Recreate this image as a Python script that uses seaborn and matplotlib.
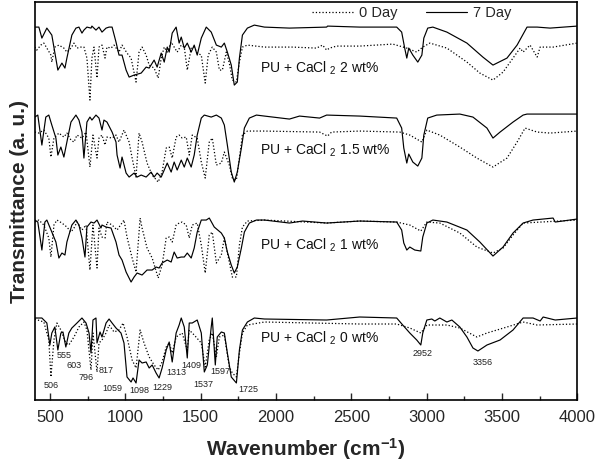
import matplotlib
matplotlib.use("Agg")
import matplotlib.pyplot as plt
from matplotlib.ticker import MultipleLocator
from matplotlib.lines import Line2D
import seaborn as sns
import pandas as pd

# ---------------- data (wavenumber cm-1, transmittance a.u.) ----------------
# PU + CaCl2 2 wt%
wn_2_7 = [400, 427, 447, 480, 513, 553, 580, 600, 613, 646, 673, 693, 713, 726, 746, 773, 779, 806, 826, 846, 873, 893, 913, 939, 959, 979, 1006, 1026, 1059, 1106, 1139, 1159, 1192, 1212, 1239, 1259, 1279, 1292, 1312, 1338, 1358, 1372, 1392, 1412, 1438, 1458, 1478, 1505, 1538, 1571, 1605, 1638, 1658, 1678, 1704, 1724, 1744, 1758, 1778, 1811, 1857, 1924, 2090, 2337, 2343, 2556, 2802, 2835, 2855, 2869, 2882, 2909, 2942, 2969, 2982, 3008, 3042, 3135, 3268, 3374, 3441, 3534, 3601, 3667, 3734, 3820, 4000]
t_2_7 = [373, 373, 362, 372, 365, 330, 337, 332, 342, 365, 372, 373, 367, 370, 373, 372, 374, 370, 373, 368, 372, 373, 373, 358, 345, 345, 330, 323, 325, 327, 333, 332, 340, 333, 347, 338, 353, 348, 367, 373, 357, 363, 352, 357, 348, 355, 345, 362, 373, 368, 355, 353, 357, 348, 335, 315, 318, 342, 365, 372, 375, 373, 372, 373, 374, 373, 373, 368, 352, 342, 352, 345, 338, 345, 362, 372, 373, 368, 357, 343, 335, 342, 355, 373, 373, 372, 374]
wn_2_0 = [400, 413, 440, 460, 480, 507, 513, 533, 560, 593, 613, 640, 660, 680, 706, 726, 746, 766, 779, 793, 813, 826, 846, 866, 879, 906, 926, 959, 979, 1012, 1039, 1072, 1092, 1112, 1139, 1159, 1192, 1219, 1239, 1259, 1279, 1305, 1325, 1345, 1372, 1392, 1412, 1438, 1458, 1478, 1505, 1531, 1551, 1578, 1605, 1625, 1645, 1671, 1691, 1711, 1738, 1758, 1778, 1811, 1924, 2110, 2270, 2310, 2337, 2357, 2403, 2556, 2776, 2869, 2935, 2975, 3022, 3135, 3268, 3354, 3441, 3508, 3574, 3621, 3641, 3667, 3687, 3734, 3754, 3840, 4000]
t_2_0 = [353, 350, 355, 357, 352, 345, 338, 353, 355, 352, 348, 352, 357, 352, 353, 353, 342, 300, 342, 353, 322, 353, 355, 342, 353, 352, 355, 348, 355, 347, 342, 318, 348, 353, 345, 335, 332, 322, 342, 353, 348, 358, 353, 348, 355, 353, 330, 352, 353, 347, 345, 317, 345, 353, 348, 330, 330, 348, 337, 320, 318, 338, 353, 355, 353, 353, 352, 355, 350, 352, 354, 354, 356, 352, 348, 353, 357, 352, 338, 327, 320, 328, 342, 352, 348, 352, 355, 343, 353, 353, 357]

# PU + CaCl2 1.5 wt%
wn_15_7 = [400, 420, 447, 473, 493, 513, 540, 553, 573, 593, 613, 640, 673, 693, 713, 726, 746, 766, 779, 806, 826, 846, 859, 879, 913, 939, 946, 966, 979, 1006, 1026, 1059, 1079, 1106, 1139, 1172, 1192, 1212, 1239, 1259, 1279, 1305, 1325, 1345, 1372, 1392, 1412, 1438, 1458, 1478, 1505, 1525, 1571, 1605, 1638, 1658, 1678, 1704, 1724, 1744, 1771, 1791, 1824, 1871, 1924, 2090, 2157, 2290, 2337, 2556, 2802, 2835, 2849, 2869, 2882, 2909, 2942, 2969, 2982, 3008, 3068, 3221, 3308, 3401, 3441, 3488, 3574, 3641, 3667, 4000]
t_15_7 = [283, 285, 255, 283, 285, 275, 262, 245, 253, 243, 258, 278, 285, 280, 268, 242, 278, 283, 280, 285, 282, 270, 280, 278, 268, 258, 245, 232, 243, 227, 223, 227, 223, 225, 223, 228, 223, 227, 223, 230, 237, 228, 238, 230, 240, 233, 242, 233, 245, 265, 282, 285, 283, 285, 282, 275, 255, 228, 218, 228, 252, 272, 282, 285, 284, 281, 284, 282, 285, 284, 282, 272, 252, 237, 246, 238, 234, 242, 265, 282, 285, 286, 283, 272, 262, 268, 278, 285, 286, 286]
wn_15_0 = [400, 427, 460, 493, 507, 527, 560, 593, 613, 640, 660, 680, 713, 740, 766, 786, 813, 826, 846, 866, 879, 913, 939, 959, 992, 1026, 1046, 1072, 1092, 1112, 1145, 1179, 1219, 1245, 1272, 1292, 1312, 1338, 1358, 1378, 1405, 1425, 1445, 1478, 1505, 1531, 1558, 1578, 1605, 1638, 1658, 1691, 1711, 1738, 1758, 1778, 1811, 1924, 2290, 2343, 2370, 2556, 2822, 2889, 2969, 3002, 3088, 3221, 3334, 3441, 3534, 3601, 3654, 3734, 3820, 4000]
t_15_0 = [268, 267, 270, 262, 243, 262, 267, 263, 267, 260, 258, 265, 262, 268, 233, 265, 242, 262, 265, 255, 263, 262, 265, 258, 270, 258, 242, 223, 267, 258, 237, 225, 218, 228, 252, 253, 242, 263, 265, 262, 263, 245, 265, 262, 238, 222, 258, 262, 235, 237, 248, 235, 222, 220, 242, 265, 269, 269, 268, 264, 268, 269, 268, 265, 258, 270, 265, 253, 242, 233, 242, 258, 272, 268, 267, 269]

# PU + CaCl2 1 wt%
wn_1_7 = [400, 420, 447, 467, 480, 513, 540, 560, 580, 600, 613, 646, 673, 693, 713, 733, 746, 773, 793, 813, 839, 846, 873, 906, 939, 959, 979, 1006, 1039, 1059, 1079, 1112, 1145, 1179, 1205, 1225, 1245, 1279, 1305, 1325, 1345, 1372, 1392, 1412, 1438, 1458, 1478, 1505, 1538, 1558, 1591, 1638, 1658, 1678, 1704, 1724, 1744, 1771, 1791, 1824, 1871, 1924, 2090, 2177, 2337, 2556, 2802, 2835, 2849, 2869, 2889, 2922, 2962, 2975, 3002, 3042, 3135, 3268, 3354, 3441, 3508, 3574, 3641, 3707, 3840, 3854, 4000]
t_1_7 = [180, 178, 150, 178, 180, 168, 158, 142, 147, 145, 158, 175, 180, 175, 162, 143, 173, 178, 177, 180, 172, 175, 173, 172, 158, 145, 140, 128, 118, 123, 127, 125, 130, 130, 133, 132, 137, 140, 138, 148, 142, 143, 143, 147, 142, 152, 168, 180, 180, 182, 173, 167, 162, 148, 135, 127, 133, 152, 168, 177, 180, 180, 177, 179, 177, 179, 178, 170, 157, 150, 153, 150, 149, 163, 177, 180, 178, 170, 158, 144, 153, 167, 177, 180, 182, 178, 181]
wn_1_0 = [400, 427, 460, 493, 507, 527, 547, 580, 613, 640, 660, 680, 713, 740, 766, 786, 813, 826, 846, 866, 879, 913, 946, 992, 1012, 1046, 1072, 1099, 1112, 1145, 1179, 1219, 1245, 1272, 1292, 1312, 1338, 1358, 1378, 1405, 1425, 1445, 1478, 1505, 1531, 1558, 1578, 1605, 1638, 1658, 1691, 1711, 1738, 1758, 1778, 1811, 1924, 2337, 2556, 2802, 2889, 2962, 3002, 3088, 3221, 3334, 3441, 3508, 3574, 3641, 4000]
t_1_0 = [178, 180, 175, 162, 143, 175, 180, 177, 173, 168, 172, 178, 170, 175, 130, 175, 132, 172, 163, 162, 178, 175, 170, 180, 163, 142, 128, 182, 172, 152, 142, 122, 135, 162, 163, 158, 175, 177, 178, 175, 162, 175, 177, 155, 127, 165, 168, 137, 145, 162, 138, 123, 123, 155, 173, 179, 180, 177, 179, 178, 175, 169, 178, 177, 167, 153, 147, 152, 165, 177, 180]

# PU + CaCl2 0 wt%
wn_0_7 = [400, 447, 480, 500, 513, 533, 553, 573, 587, 606, 626, 646, 680, 713, 740, 760, 773, 786, 806, 813, 833, 846, 873, 893, 913, 939, 972, 992, 1012, 1039, 1052, 1072, 1092, 1112, 1139, 1159, 1179, 1205, 1225, 1245, 1272, 1292, 1312, 1338, 1358, 1372, 1392, 1412, 1425, 1445, 1478, 1505, 1525, 1545, 1571, 1578, 1598, 1611, 1638, 1658, 1678, 1704, 1738, 1758, 1778, 1811, 1857, 1924, 2337, 2556, 2802, 2842, 2889, 2935, 2962, 2975, 3002, 3035, 3055, 3088, 3135, 3168, 3221, 3268, 3308, 3341, 3401, 3488, 3574, 3641, 3707, 3754, 3774, 3854, 4000]
t_0_7 = [82, 82, 77, 55, 67, 73, 50, 67, 68, 53, 67, 72, 77, 82, 77, 67, 47, 80, 82, 57, 68, 63, 77, 81, 77, 72, 67, 57, 23, 18, 22, 17, 40, 37, 38, 32, 35, 27, 22, 32, 50, 58, 38, 67, 75, 82, 73, 42, 77, 77, 80, 67, 28, 35, 73, 82, 35, 63, 68, 67, 47, 23, 17, 50, 70, 78, 82, 81, 80, 83, 82, 75, 67, 60, 55, 67, 80, 81, 79, 82, 78, 80, 73, 63, 52, 49, 55, 60, 70, 82, 82, 79, 83, 80, 82]
wn_0_0 = [400, 460, 493, 507, 527, 547, 573, 606, 626, 660, 693, 726, 746, 773, 786, 813, 826, 846, 873, 893, 926, 959, 986, 1012, 1046, 1072, 1099, 1125, 1159, 1192, 1219, 1245, 1272, 1292, 1312, 1338, 1358, 1378, 1412, 1425, 1458, 1505, 1531, 1558, 1578, 1605, 1625, 1658, 1691, 1711, 1738, 1758, 1778, 1811, 1924, 2556, 2802, 2889, 2962, 3002, 3135, 3221, 3334, 3401, 3534, 3641, 3734, 4000]
t_0_0 = [81, 78, 60, 23, 60, 77, 70, 57, 55, 63, 73, 78, 70, 30, 67, 28, 57, 60, 67, 75, 68, 70, 77, 63, 40, 32, 70, 57, 43, 35, 30, 38, 53, 57, 47, 63, 65, 67, 50, 70, 65, 57, 33, 60, 67, 43, 63, 65, 33, 27, 23, 47, 67, 75, 78, 76, 76, 72, 67, 75, 75, 72, 63, 67, 73, 78, 75, 76]

# sample labels and their anchor points
sample_labels = ["PU + CaCl $_{2}$ 2 wt%", "PU + CaCl $_{2}$ 1.5 wt%",
                 "PU + CaCl $_{2}$ 1 wt%", "PU + CaCl $_{2}$ 0 wt%"]
sample_label_y = [332, 250, 155, 62]
sample_label_x = 1895

# peak annotations on the 0 wt% spectra
peak_text = ["506", "555", "603", "796", "817", "1059", "1098", "1229", "1313",
             "1409", "1537", "1597", "1725", "2952", "3356"]
peak_x = [507, 595, 662, 740, 873, 913, 1092, 1245, 1338, 1438, 1518, 1631, 1817, 2975, 3374]
peak_y = [14, 44, 34, 22, 29, 11, 9, 12, 27, 34, 15, 28, 10, 46, 37]

# ---------------- plotting ----------------
sns.set_style("white")
plt.rcParams["font.family"] = ["Liberation Sans", "DejaVu Sans"]
plt.rcParams["mathtext.default"] = "regular"

fig = plt.figure(figsize=(6.0, 4.67), dpi=100)
ax = fig.add_axes([0.058, 0.1435, 0.904, 0.852])

series = [
    (wn_2_0, t_2_0, ":"), (wn_2_7, t_2_7, "-"),
    (wn_15_0, t_15_0, ":"), (wn_15_7, t_15_7, "-"),
    (wn_1_0, t_1_0, ":"), (wn_1_7, t_1_7, "-"),
    (wn_0_0, t_0_0, ":"), (wn_0_7, t_0_7, "-"),
]
for xs, ys, ls in series:
    df = pd.DataFrame({"wn": xs, "t": ys})
    sns.lineplot(data=df, x="wn", y="t", ax=ax, color="black",
                 linestyle=ls, linewidth=0.9 if ls == ":" else 0.85,
                 estimator=None, sort=False, legend=False)

for lab, yy in zip(sample_labels, sample_label_y):
    ax.text(sample_label_x, yy, lab, fontsize=10, ha="left", va="center", color="#111111")

for s, xx, yy in zip(peak_text, peak_x, peak_y):
    ax.text(xx, yy, s, fontsize=6.5, ha="center", va="center", color="#222222")

ax.set_xlim(400, 4000)
ax.set_ylim(0, 398)
ax.xaxis.set_major_locator(MultipleLocator(500))
ax.xaxis.set_minor_locator(MultipleLocator(250))
ax.set_yticks([])
ax.tick_params(axis="x", which="major", direction="in", length=5, width=1.0,
               labelsize=12, pad=7, bottom=True, top=False)
ax.tick_params(axis="x", which="minor", direction="in", length=3, width=1.0,
               bottom=True, top=False)
for sp in ax.spines.values():
    sp.set_linewidth(1.2)
    sp.set_color("black")

ax.set_xlabel("Wavenumber (cm$^{-1}$)", fontsize=15, fontweight="bold", labelpad=8)
ax.set_ylabel("Transmittance (a. u.)", fontsize=15, fontweight="bold", labelpad=4)

handles = [Line2D([], [], color="black", linestyle=":", linewidth=0.9),
           Line2D([], [], color="black", linestyle="-", linewidth=0.85)]
ax.legend(handles, ["0 Day", "7 Day"], ncol=2, frameon=False, fontsize=10.5,
          loc="center", bbox_to_anchor=(0.695, 0.972), handlelength=2.8,
          handletextpad=0.4, columnspacing=2.0, borderpad=0)

fig.savefig("out.png", dpi=100)
